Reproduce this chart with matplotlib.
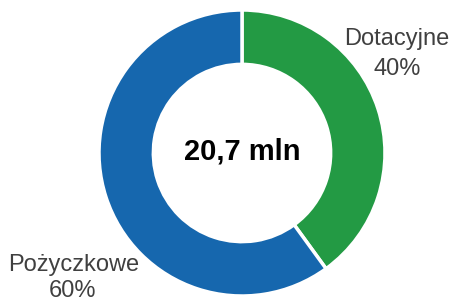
import matplotlib.pyplot as plt

plt.rcParams['font.family'] = ['Liberation Sans', 'DejaVu Sans']

labels = ['Dotacyjne', 'Pożyczkowe']
shares = [40, 60]
colors = ['#239a44', '#1667ae']
total_text = '20,7 mln'

W, H = 457, 302
fig = plt.figure(figsize=(W / 100, H / 100), dpi=100)
ax = fig.add_axes([0, 0, 1, 1])

cx, cy, r = 242, H - 153, 143
ax.pie(shares, colors=colors, startangle=90, counterclock=False,
       center=(cx, cy), radius=r, frame=True,
       wedgeprops=dict(width=r * 0.38, edgecolor='white', linewidth=2.5))
ax.set_xlim(0, W)
ax.set_ylim(0, H)
ax.set_aspect('equal')
ax.axis('off')

ax.text(cx, cy + 1, total_text, ha='center', va='center',
        fontsize=21, fontweight='bold', color='black')

# etykiety
ax.text(397, H - 39, labels[0], ha='center', va='center', fontsize=17, color='#404040')
ax.text(397, H - 69, f'{shares[0]}%', ha='center', va='center', fontsize=17, color='#404040')
ax.text(74, H - 265, labels[1], ha='center', va='center', fontsize=17, color='#404040')
ax.text(72, H - 291, f'{shares[1]}%', ha='center', va='center', fontsize=17, color='#404040')

fig.savefig('out.png', dpi=100)
